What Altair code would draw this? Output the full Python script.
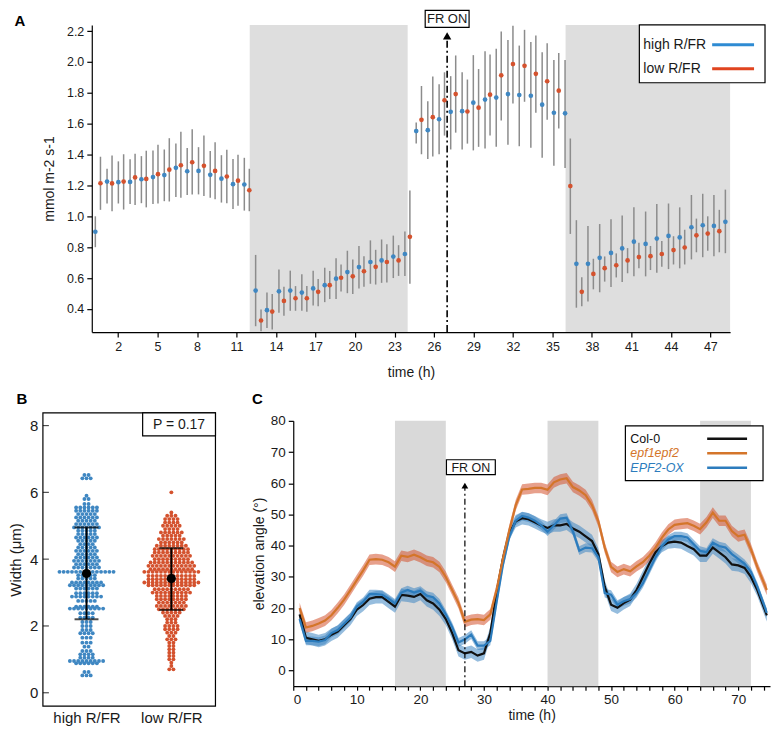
import altair as alt
import pandas as pd

FONT = "Liberation Sans"
INK = "#1a1a1a"

# ---------------- Panel A data ----------------
A_SERIES = ["high R/FR", "low R/FR"]
A_PT_COLORS = ["#3f87c2", "#d4522e"]
A_LEG_COLORS = ["#2e8bd3", "#e0441f"]
A_XTICKS = [2, 5, 8, 11, 14, 17, 20, 23, 26, 29, 32, 35, 38, 41, 44, 47]
A_YTICKS = [0.4, 0.6, 0.8, 1.0, 1.2, 1.4, 1.6, 1.8, 2.0, 2.2]
A_DARK_START = [12, 36]
A_DARK_END = [24, 48.5]
A_FR_ON = 27

high_t = [0.27, 1.16, 2.02, 2.91, 3.77, 4.65, 5.51, 6.39, 7.25, 8.11, 9.0, 9.85, 10.73, 11.59,
          12.45, 13.31, 14.22, 15.08, 15.96, 16.82, 17.7, 18.56, 19.42, 20.3, 21.17, 22.02, 22.91, 23.79,
          24.65, 25.53, 26.39, 27.27, 28.14, 28.99, 29.88, 30.73, 31.62, 32.48, 33.36, 34.22, 35.11, 35.96,
          36.82, 37.7, 38.59, 39.45, 40.3, 41.19, 42.08, 42.93, 43.82, 44.67, 45.56, 46.42, 47.27, 48.14]
high_v = [0.90, 1.225, 1.221, 1.223, 1.24, 1.254, 1.267, 1.314, 1.292, 1.294, 1.269, 1.244, 1.208, 1.206,
          0.519, 0.392, 0.514, 0.519, 0.506, 0.533, 0.554, 0.596, 0.639, 0.671, 0.704, 0.714, 0.739, 0.756,
          1.552, 1.558, 1.629, 1.677, 1.681, 1.736, 1.756, 1.769, 1.792, 1.786, 1.781, 1.723, 1.671, 1.667,
          0.692, 0.692, 0.731, 0.763, 0.792, 0.836, 0.821, 0.856, 0.873, 0.863, 0.929, 0.942, 0.938, 0.964]
high_lo = [0.80, 1.083, 1.083, 1.079, 1.085, 1.079, 1.098, 1.125, 1.138, 1.142, 1.121, 1.089, 1.048, 1.037,
           0.288, 0.277, 0.375, 0.388, 0.388, 0.423, 0.444, 0.464, 0.502, 0.533, 0.563, 0.569, 0.60, 0.614,
           1.471, 1.371, 1.402, 1.433, 1.433, 1.427, 1.44, 1.45, 1.463, 1.454, 1.444, 1.379, 1.327, 1.313,
           0.408, 0.448, 0.508, 0.542, 0.575, 0.611, 0.611, 0.635, 0.658, 0.663, 0.721, 0.735, 0.742, 0.761]
high_hi = [1.0, 1.308, 1.356, 1.369, 1.39, 1.427, 1.433, 1.471, 1.442, 1.448, 1.423, 1.396, 1.371, 1.379,
           0.75, 0.506, 0.656, 0.648, 0.625, 0.648, 0.667, 0.729, 0.777, 0.808, 0.844, 0.85, 0.875, 0.902,
           1.608, 1.746, 1.856, 1.908, 1.933, 2.044, 2.069, 2.085, 2.142, 2.106, 2.129, 2.063, 2.013, 2.013,
           0.975, 0.938, 0.95, 0.981, 1.006, 1.058, 1.031, 1.079, 1.083, 1.058, 1.138, 1.146, 1.138, 1.173]

low_t = [0.66, 1.54, 2.42, 3.29, 4.14, 5.03, 5.89, 6.77, 7.63, 8.52, 9.37, 10.26, 11.11, 11.97,
         12.86, 13.71, 14.6, 15.48, 16.34, 17.2, 18.08, 18.94, 19.83, 20.68, 21.57, 22.42, 23.31, 24.17,
         25.05, 25.91, 26.8, 27.65, 28.54, 29.39, 30.26, 31.11, 32.0, 32.88, 33.74, 34.6, 35.48, 36.36,
         37.23, 38.11, 38.97, 39.85, 40.71, 41.57, 42.45, 43.31, 44.2, 45.05, 45.94, 46.8, 47.68]
low_v = [1.214, 1.213, 1.225, 1.252, 1.242, 1.273, 1.302, 1.331, 1.35, 1.327, 1.294, 1.258, 1.231, 1.169,
         0.325, 0.383, 0.452, 0.469, 0.469, 0.511, 0.554, 0.602, 0.611, 0.644, 0.673, 0.704, 0.714, 0.867,
         1.625, 1.642, 1.752, 1.792, 1.679, 1.704, 1.788, 1.913, 1.986, 1.975, 1.923, 1.875, 1.814, 1.196,
         0.511, 0.627, 0.664, 0.683, 0.714, 0.736, 0.742, 0.756, 0.781, 0.798, 0.877, 0.888, 0.904]
low_lo = [1.042, 1.033, 1.044, 1.073, 1.058, 1.083, 1.096, 1.12, 1.142, 1.131, 1.11, 1.085, 1.069, 1.033,
          0.256, 0.267, 0.356, 0.388, 0.381, 0.417, 0.464, 0.513, 0.496, 0.544, 0.558, 0.571, 0.614, 0.563,
          1.402, 1.388, 1.523, 1.542, 1.471, 1.45, 1.523, 1.621, 1.731, 1.742, 1.671, 1.625, 1.569, 0.886,
          0.417, 0.527, 0.577, 0.604, 0.631, 0.663, 0.652, 0.673, 0.688, 0.688, 0.767, 0.777, 0.767]
low_hi = [1.386, 1.394, 1.402, 1.406, 1.425, 1.464, 1.506, 1.548, 1.564, 1.523, 1.479, 1.431, 1.398, 1.308,
          0.396, 0.496, 0.544, 0.548, 0.548, 0.594, 0.646, 0.688, 0.721, 0.742, 0.783, 0.819, 0.813, 1.167,
          1.844, 1.906, 1.933, 2.042, 1.886, 1.954, 2.048, 2.198, 2.235, 2.208, 2.171, 2.121, 2.058, 1.504,
          0.606, 0.725, 0.74, 0.76, 0.794, 0.829, 0.808, 0.84, 0.871, 0.913, 0.985, 1.0, 1.042]

# ---------------- Panel B data ----------------
B_GROUPS = ["high R/FR", "low R/FR"]
B_COLORS = ["#2387cf", "#e63a1c"]
B_YTICKS = [0, 2, 4, 6, 8]
b_high_w = [6.52, 6.42, 5.90, 5.80, 5.65, 5.55, 5.45, 5.35, 5.25, 5.15, 5.05, 4.95, 4.85, 4.75, 4.65,
            4.55, 4.45, 4.35, 4.25, 4.15, 4.05, 3.95, 3.85, 3.75, 3.62, 3.52, 3.42, 3.30, 3.22, 3.12,
            2.98, 2.88, 2.75, 2.58, 2.52, 2.38, 2.25, 2.12, 2.00, 1.88, 1.78, 1.65, 1.50, 1.38, 1.25,
            1.15, 1.05, 0.95, 0.88, 0.62, 0.52]
b_high_n = [2, 3, 1, 2, 2, 6, 6, 5, 6, 5, 6, 7, 5, 5, 6,
            5, 4, 5, 6, 5, 6, 7, 6, 7, 14, 5, 5, 8, 9, 6,
            6, 8, 5, 6, 9, 4, 4, 3, 3, 3, 4, 3, 3, 2, 3,
            4, 4, 9, 6, 2, 3]
b_low_w = [6.00, 5.40, 5.30, 5.20, 5.10, 5.00, 4.90, 4.80, 4.70, 4.60, 4.50, 4.40, 4.30, 4.20, 4.10,
           4.00, 3.90, 3.80, 3.70, 3.62, 3.50, 3.40, 3.30, 3.22, 3.10, 3.00, 2.90, 2.80, 2.70, 2.60,
           2.50, 2.40, 2.30, 2.20, 2.10, 2.00, 1.90, 1.80, 1.70, 1.60, 1.50, 1.40, 1.30, 1.20, 1.10,
           1.00, 0.90, 0.80, 0.70]
b_low_n = [1, 1, 3, 4, 4, 5, 4, 6, 5, 7, 6, 8, 9, 9, 10,
           9, 11, 12, 11, 14, 12, 12, 14, 12, 9, 10, 8, 8, 7, 8,
           7, 5, 4, 3, 3, 4, 4, 3, 2, 3, 2, 2, 2, 2, 2,
           2, 1, 1, 2]
b_mean = [3.57, 3.42]
b_sd_lo = [2.20, 2.48]
b_sd_hi = [4.95, 4.33]
B_PTEXT = "P = 0.17"

# ---------------- Panel C data ----------------
C_SERIES = ["Col-0", "epf1epf2", "EPF2-OX"]
C_LINE_COLORS = ["#111111", "#d4752a", "#2c7cbd"]
C_BAND_COLORS = ["#7a7a7a", "#f0b27c", "#8fc0e6"]
C_SEM = [2.0, 1.7, 1.4]
C_XTICKS = list(range(0, 76, 2))
C_YTICKS = [0, 10, 20, 30, 40, 50, 60, 70, 80]
C_DARK_START = [16, 40, 64]
C_DARK_END = [24, 48, 72]
C_FR_ON = 27
c_t = [1, 2, 3, 4, 5, 6, 7, 8, 9, 10, 11, 12, 13, 14, 15, 16, 17, 18, 19, 20,
       21, 22, 23, 24, 25, 26, 27, 28, 29, 30, 31, 32, 33, 34, 35, 36, 37, 38, 39, 40,
       41, 42, 43, 44, 45, 46, 47, 48, 49, 50, 51, 52, 53, 54, 55, 56, 57, 58, 59, 60,
       61, 62, 63, 64, 65, 66, 67, 68, 69, 70, 71, 72, 73, 74.5]
c_col0 = [18.0, 10.5, 10.0, 9.5, 10.0, 11.5, 12.5, 14.5, 16.5, 19.5,
          21.0, 23.0, 23.5, 23.5, 22.0, 20.5, 24.2, 24.0, 23.6, 24.5,
          22.5, 21.5, 19.5, 16.5, 12.0, 6.5, 5.5, 6.0, 4.8, 5.5,
          12.0, 25.0, 36.0, 44.0, 47.8, 48.8, 48.5, 47.5, 46.5, 45.7,
          46.5, 46.5, 47.0, 45.5, 44.5, 43.0, 41.5, 37.3, 26.9, 21.1,
          20.1, 21.6, 22.7, 25.8, 30.0, 34.2, 37.9, 39.9, 41.0, 41.3,
          41.0, 39.9, 38.9, 36.8, 36.8, 39.4, 37.9, 36.3, 34.0, 33.7,
          32.9, 30.0, 25.8, 17.7]
c_epf = [20.0, 13.8, 14.3, 15.1, 16.0, 17.7, 20.1, 22.7, 25.8, 29.0,
         32.1, 35.5, 35.7, 35.5, 34.7, 33.3, 36.8, 36.4, 37.1, 36.3,
         35.2, 34.7, 33.2, 30.0, 25.8, 21.6, 15.6, 16.3, 16.5, 16.2,
         18.0, 26.0, 36.0, 45.0, 53.0, 58.0, 58.2, 58.5, 58.5, 57.9,
         60.3, 61.2, 61.6, 58.8, 57.7, 56.2, 53.0, 47.8, 39.4, 33.2,
         31.6, 32.5, 31.8, 33.4, 34.7, 36.8, 39.4, 42.6, 45.2, 46.7,
         47.0, 47.2, 46.4, 45.3, 47.5, 50.6, 48.0, 48.0, 44.7, 43.0,
         43.5, 38.9, 33.2, 25.8]
c_ox = [16.5, 9.5, 9.5, 9.3, 9.8, 12.0, 13.0, 15.0, 17.0, 20.5,
        22.0, 24.5, 24.5, 24.3, 23.0, 21.5, 25.0, 25.8, 25.0, 25.6,
        24.0, 23.5, 21.5, 18.0, 14.0, 9.0, 10.0, 11.5, 8.0, 8.0,
        9.5, 22.0, 34.0, 43.0, 48.0, 49.5, 49.0, 48.0, 46.5, 44.5,
        46.5, 48.7, 49.0, 44.6, 38.4, 39.4, 39.2, 36.3, 24.8, 24.3,
        21.1, 22.2, 22.9, 24.8, 27.9, 32.1, 36.3, 39.9, 42.0, 43.1,
        43.1, 42.6, 40.5, 38.4, 37.9, 41.0, 39.9, 39.4, 37.3, 35.8,
        34.2, 31.6, 26.9, 18.5]

# ================= Panel A =================
# The group starts at the same left edge as panel B; the plot itself is indented by A_IN.
A_IN = 49
A_W, A_H = 689, 308
dfA = pd.concat([
    pd.DataFrame({"t": high_t, "v": high_v, "lo": high_lo, "hi": high_hi, "s": A_SERIES[0]}),
    pd.DataFrame({"t": low_t, "v": low_v, "lo": low_lo, "hi": low_hi, "s": A_SERIES[1]}),
], ignore_index=True)

sxA = alt.Scale(domain=[0, 48.5], nice=False, zero=False, range=[A_IN, A_W])
syA = alt.Scale(domain=[0.25, 2.24], nice=False, zero=False)
axA_x = alt.Axis(values=A_XTICKS, title="time (h)", labelFontSize=12.5, titleFontSize=14,
                 tickSize=5, labelPadding=3, titlePadding=13, grid=False)
axA_y = alt.Axis(values=A_YTICKS, format=".1f", title="mmol m-2 s-1", labelFontSize=12.5,
                 titleFontSize=14, tickSize=5, labelPadding=3, titlePadding=10, grid=False,
                 offset=-A_IN)


def xa(field):
    return alt.X(field, scale=sxA, axis=axA_x)


def ya(field):
    return alt.Y(field, scale=syA, axis=axA_y)


one = pd.DataFrame({"k": [0]})
shadeA = alt.Chart(pd.DataFrame({"start": A_DARK_START, "end": A_DARK_END})).mark_rect(
    color="#dedede").encode(x=xa("start:Q"), x2="end:Q", y=alt.value(0), y2=alt.value(A_H))
errA = alt.Chart(dfA).mark_rule(color="#8c8c8c", strokeWidth=1.5).encode(
    x=xa("t:Q"), y=ya("lo:Q"), y2="hi:Q")
ptsA = alt.Chart(dfA).mark_circle(size=22, opacity=1).encode(
    x=xa("t:Q"), y=ya("v:Q"),
    color=alt.Color("s:N", scale=alt.Scale(domain=A_SERIES, range=A_PT_COLORS), legend=None))
frA = pd.DataFrame({"t": [A_FR_ON], "label": ["FR ON"]})
arrowA = alt.Chart(frA).mark_rule(color="black", strokeWidth=1.6, strokeDash=[7, 3, 2, 3]).encode(
    x=xa("t:Q"), y=alt.value(A_H), y2=alt.value(13))
headA = alt.Chart(frA).mark_point(shape="triangle-up", filled=True, size=70, color="black", opacity=1).encode(
    x=xa("t:Q"), y=alt.value(11))
boxA = alt.Chart(frA).mark_rect(width=44, height=17, fill="white", stroke="black", strokeWidth=1.2).encode(
    x=xa("t:Q"), y=alt.value(-6))
txtA = alt.Chart(frA).mark_text(fontSize=13, font=FONT, color=INK).encode(
    x=xa("t:Q"), y=alt.value(-5.5), text="label:N")
legboxA = alt.Chart(one).mark_rect(fill="white", stroke="black", strokeWidth=1.2).encode(
    x=alt.value(A_IN + 549), x2=alt.value(A_IN + 675), y=alt.value(0), y2=alt.value(58))
leg_layers = []
for i, (name, col) in enumerate(zip(A_SERIES, A_LEG_COLORS)):
    yy = 20 + 24 * i
    d = pd.DataFrame({"label": [name]})
    leg_layers.append(alt.Chart(d).mark_text(align="left", baseline="middle", fontSize=14, font=FONT,
                                             color=INK).encode(x=alt.value(A_IN + 553), y=alt.value(yy),
                                                               text="label:N"))
    leg_layers.append(alt.Chart(d).mark_rule(color=col, strokeWidth=3).encode(
        x=alt.value(A_IN + 622), x2=alt.value(A_IN + 664), y=alt.value(yy)))
letterA = alt.Chart(pd.DataFrame({"label": ["A"]})).mark_text(
    fontSize=15, fontWeight="bold", font=FONT, color="black").encode(
    x=alt.value(A_IN - 72), y=alt.value(-4), text="label:N")

panelA = alt.layer(shadeA, errA, ptsA, arrowA, headA, boxA, txtA, legboxA, *leg_layers, letterA
                   ).properties(width=A_W, height=A_H)

# ================= Panel B =================
B_W, B_H = 173, 294
rows = []
for gi, (ws, ns) in enumerate([(b_high_w, b_high_n), (b_low_w, b_low_n)]):
    for w, n in zip(ws, ns):
        for _ in range(n):
            rows.append({"g": B_GROUPS[gi], "gx": gi + 1, "w": w})
dfB = pd.DataFrame(rows)
dfBs = pd.DataFrame({"gx": [1, 2], "m": b_mean, "lo": b_sd_lo, "hi": b_sd_hi})

sxB = alt.Scale(domain=[0.486, 2.52], nice=False, zero=False)
syB = alt.Scale(domain=[-0.4, 8.38], nice=False, zero=False)
label_expr = "datum.value == 1 ? '%s' : '%s'" % (B_GROUPS[0], B_GROUPS[1])
axB_x = alt.Axis(values=[1, 2], labelExpr=label_expr, tickSize=0, domain=False, labelFontSize=15,
                 labelPadding=4, title=None, grid=False)
axB_y = alt.Axis(values=B_YTICKS, tickSize=0, domain=False, labelFontSize=15, labelPadding=5,
                 title="Width (μm)", titleFontSize=15, titlePadding=6, grid=False)


def xb(field):
    return alt.X(field, scale=sxB, axis=axB_x)


def yb(field):
    return alt.Y(field, scale=syB, axis=axB_y)


swarm = alt.Chart(dfB).transform_window(
    k="row_number()", groupby=["g", "w"]
).transform_joinaggregate(
    n="count()", groupby=["g", "w"]
).transform_calculate(
    xpos="datum.gx + (datum.k - (datum.n + 1) / 2) * 0.049"
).mark_circle(size=15, opacity=1).encode(
    x=xb("xpos:Q"), y=yb("w:Q"),
    color=alt.Color("g:N", scale=alt.Scale(domain=B_GROUPS, range=B_COLORS), legend=None))
sdrule = alt.Chart(dfBs).mark_rule(color="black", strokeWidth=2).encode(x=xb("gx:Q"), y=yb("lo:Q"), y2="hi:Q")
caplo = alt.Chart(dfBs).mark_tick(orient="horizontal", size=24, thickness=2, color="black").encode(
    x=xb("gx:Q"), y=yb("lo:Q"))
caphi = alt.Chart(dfBs).mark_tick(orient="horizontal", size=24, thickness=2, color="black").encode(
    x=xb("gx:Q"), y=yb("hi:Q"))
meanB = alt.Chart(dfBs).mark_circle(size=85, color="black", opacity=1).encode(x=xb("gx:Q"), y=yb("m:Q"))
frameB = alt.Chart(one).mark_rect(fillOpacity=0, stroke="black", strokeWidth=1.2).encode(
    x=alt.value(0), x2=alt.value(B_W), y=alt.value(0), y2=alt.value(B_H))
ticksB = alt.Chart(pd.DataFrame({"v": B_YTICKS})).mark_tick(
    orient="horizontal", size=6, thickness=1.2, color="black").encode(x=alt.value(3), y=yb("v:Q"))
pboxB = alt.Chart(one).mark_rect(fill="white", stroke="black", strokeWidth=1.2).encode(
    x=alt.value(100), x2=alt.value(B_W), y=alt.value(0), y2=alt.value(23))
ptxtB = alt.Chart(pd.DataFrame({"label": [B_PTEXT]})).mark_text(fontSize=14, font=FONT, color=INK).encode(
    x=alt.value(136.5), y=alt.value(12), text="label:N")
letterB = alt.Chart(pd.DataFrame({"label": ["B"]})).mark_text(
    fontSize=15, fontWeight="bold", font=FONT, color="black").encode(
    x=alt.value(-21), y=alt.value(-14), text="label:N")

panelB = alt.layer(swarm, sdrule, caplo, caphi, meanB, ticksB, frameB, pboxB, ptxtB, letterB
                   ).properties(width=B_W, height=B_H)

# ================= Panel C =================
# The group top is level with panel B; the plot itself starts C_IN lower.
C_IN = 8
C_W, C_H = 478, 274
dfC = pd.concat([
    pd.DataFrame({"t": c_t, "v": vals, "s": name, "sem": sem})
    for name, vals, sem in zip(C_SERIES, [c_col0, c_epf, c_ox], C_SEM)
], ignore_index=True)

sxC = alt.Scale(domain=[0, 75], nice=False, zero=False)
syC = alt.Scale(domain=[-5, 80], nice=False, zero=False, range=[C_H, C_IN])
axC_x = alt.Axis(values=C_XTICKS, labelExpr="datum.value % 10 == 0 ? datum.label : ''",
                 title="time (h)", labelFontSize=13.5, titleFontSize=14, tickSize=4, labelPadding=2,
                 titlePadding=3, grid=False)
axC_y = alt.Axis(values=C_YTICKS, title="elevation angle (°)", labelFontSize=13.5, titleFontSize=14,
                 tickSize=5, labelPadding=3, titlePadding=4, grid=False)


def xc(field):
    return alt.X(field, scale=sxC, axis=axC_x)


def yc(field):
    return alt.Y(field, scale=syC, axis=axC_y)


shadeC = alt.Chart(pd.DataFrame({"start": C_DARK_START, "end": C_DARK_END})).mark_rect(
    color="#d9d9d9").encode(x=xc("start:Q"), x2="end:Q", y=alt.value(C_IN), y2=alt.value(C_H))
bandsC = alt.Chart(dfC).transform_calculate(
    lo="datum.v - datum.sem", hi="datum.v + datum.sem"
).mark_area(opacity=0.55).encode(
    x=xc("t:Q"), y=yc("lo:Q"), y2="hi:Q",
    color=alt.Color("s:N", scale=alt.Scale(domain=C_SERIES, range=C_BAND_COLORS), legend=None))
line_layers = []
for idx in [0, 2, 1]:
    line_layers.append(alt.Chart(dfC).transform_filter(alt.datum.s == C_SERIES[idx]).mark_line(
        color=C_LINE_COLORS[idx], strokeWidth=2.2).encode(x=xc("t:Q"), y=yc("v:Q")))
frC = pd.DataFrame({"t": [C_FR_ON], "label": ["FR ON"]})
arrowC = alt.Chart(frC).mark_rule(color="black", strokeWidth=1.2, strokeDash=[6, 3, 2, 3]).encode(
    x=xc("t:Q"), y=alt.value(C_H), y2=alt.value(C_IN + 66))
headC = alt.Chart(frC).mark_point(shape="triangle-up", filled=True, size=45, color="black", opacity=1).encode(
    x=xc("t:Q"), y=alt.value(C_IN + 65))
boxC = alt.Chart(frC).mark_rect(width=49, height=15, xOffset=6, fill="white", stroke="black",
                                strokeWidth=1.2).encode(x=xc("t:Q"), y=alt.value(C_IN + 46.5))
txtC = alt.Chart(frC).mark_text(fontSize=12.5, font=FONT, color=INK, dx=6).encode(
    x=xc("t:Q"), y=alt.value(C_IN + 47), text="label:N")
legboxC = alt.Chart(one).mark_rect(fill="white", stroke="black", strokeWidth=1.2).encode(
    x=alt.value(333), x2=alt.value(471), y=alt.value(C_IN + 5), y2=alt.value(C_IN + 60))
legC = []
for i, (name, col) in enumerate(zip(C_SERIES, C_LINE_COLORS)):
    yy = C_IN + 18 + 14.5 * i
    d = pd.DataFrame({"label": [name]})
    style = "normal" if i == 0 else "italic"
    legC.append(alt.Chart(d).mark_text(align="left", baseline="middle", fontSize=12.5, font=FONT,
                                       fontStyle=style, color=col).encode(
        x=alt.value(338), y=alt.value(yy), text="label:N"))
    legC.append(alt.Chart(d).mark_rule(color=col, strokeWidth=2.5).encode(
        x=alt.value(415), x2=alt.value(455), y=alt.value(yy)))
letterC = alt.Chart(pd.DataFrame({"label": ["C"]})).mark_text(
    fontSize=15, fontWeight="bold", font=FONT, color="black").encode(
    x=alt.value(-36), y=alt.value(-14), text="label:N")

panelC = alt.layer(shadeC, bandsC, *line_layers, arrowC, headC, boxC, txtC, legboxC, *legC, letterC
                   ).properties(width=C_W, height=C_H)

chart = alt.vconcat(
    panelA,
    alt.hconcat(panelB, panelC, spacing=35),
    spacing=12,
).properties(
    padding={"left": 0, "top": 0, "right": 0, "bottom": 0}
).configure_view(stroke=None).configure_axis(
    domainColor="black", tickColor="black", labelColor=INK, titleColor=INK,
    labelFont=FONT, titleFont=FONT, titleFontWeight="normal", domainWidth=1.2, tickWidth=1.2
)

chart.save("out.html", embed_options={"renderer": "svg", "actions": False})
